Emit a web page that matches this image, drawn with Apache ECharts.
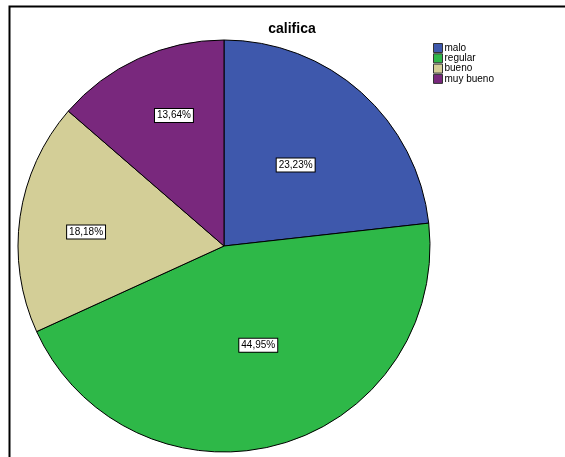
<!DOCTYPE html>
<html>
<head>
<meta charset="utf-8">
<script src="https://cdn.jsdelivr.net/npm/echarts@6/dist/echarts.min.js"></script>
<style>
html,body{margin:0;padding:0;background:#fff;}
#chart{width:565px;height:457px;}
</style>
</head>
<body>
<div id="chart"></div>
<script>
// Rating categories and their shares (percent)
const categories = ['malo', 'regular', 'bueno', 'muy bueno'];
const shares = [23.23, 44.95, 18.18, 13.64];
const colors = ['#3E58AC', '#2EB848', '#D3CE97', '#79287D'];
const titleText = 'califica';
// nudges of each value label away from its default inside spot (px)
const labelNudge = [[1, -2], [6, -3], [-33, 1], [-6, -34]];

const chart = echarts.init(document.getElementById('chart'), null, {renderer: 'canvas'});

const option = {
  animation: false,
  backgroundColor: '#fff',
  title: {
    text: titleText,
    left: 287,
    top: 17,
    textAlign: 'center',
    textStyle: {fontFamily: 'Liberation Sans, Arial', fontSize: 14, fontWeight: 'bold', color: '#000'}
  },
  legend: {
    orient: 'vertical',
    left: 428,
    top: 38,
    itemWidth: 9,
    itemHeight: 9,
    itemGap: 0.3,
    icon: 'rect',
    itemStyle: {borderColor: '#333', borderWidth: 1},
    textStyle: {fontFamily: 'Liberation Sans, Arial', fontSize: 10, lineHeight: 10, color: '#000', padding: [0, 0, 0, -3]},
    data: categories
  },
  graphic: [{
    type: 'rect',
    shape: {x: 9.5, y: 6.5, width: 600, height: 500},
    style: {fill: 'none', stroke: '#000', lineWidth: 2},
    silent: true
  }],
  series: [{
    type: 'pie',
    center: [224, 246],
    radius: 206,
    startAngle: 90,
    clockwise: true,
    label: {
      show: true,
      position: 'inside',
      formatter: p => p.value.toFixed(2).replace('.', ',') + '%',
      fontFamily: 'Liberation Sans, Arial',
      fontSize: 10,
      color: '#000',
      backgroundColor: '#fff',
      borderColor: '#000',
      borderWidth: 1,
      padding: [2, 2, 1, 2]
    },
    labelLayout: p => ({dx: labelNudge[p.dataIndex][0], dy: labelNudge[p.dataIndex][1]}),
    labelLine: {show: false},
    itemStyle: {borderColor: '#000', borderWidth: 1},
    emphasis: {disabled: true},
    data: categories.map((c, i) => ({name: c, value: shares[i], itemStyle: {color: colors[i]}}))
  }]
};
chart.setOption(option);
</script>
</body>
</html>
